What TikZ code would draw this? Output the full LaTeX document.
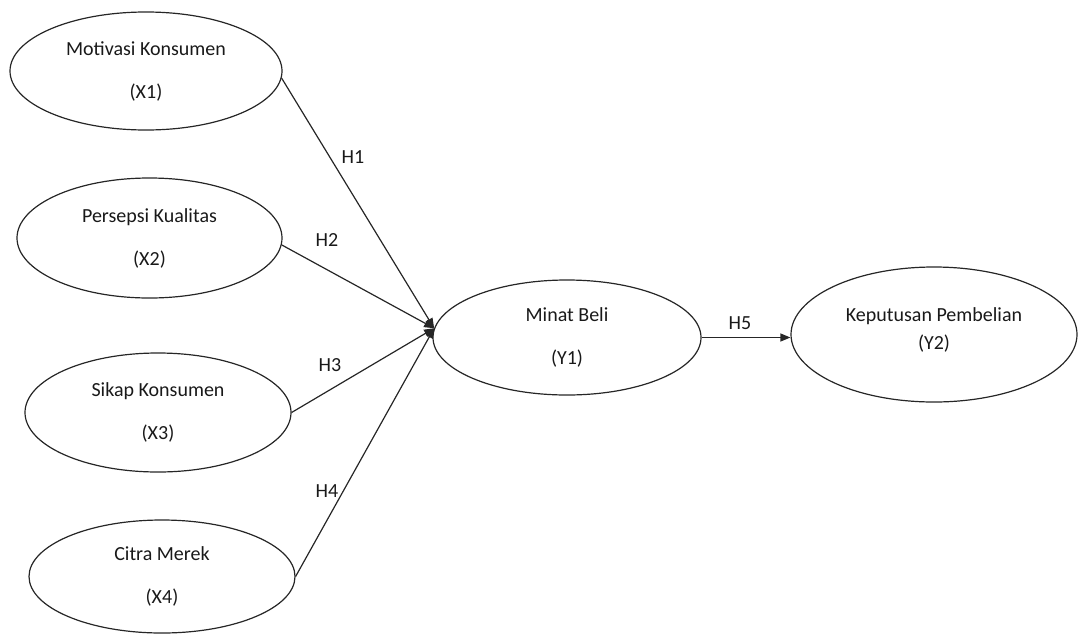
\documentclass[tikz,border=0pt]{standalone}
\usepackage{fontspec}
\setmainfont{Carlito}
\usetikzlibrary{shapes.geometric,arrows.meta}
\begin{document}
\begin{tikzpicture}[x=1pt,y=-1pt,
  ell/.style={draw=black!85,line width=1.2pt,ellipse,inner sep=0pt,align=center,
    font=\fontsize{20}{24}\selectfont,text=black!90},
  lbl/.style={font=\fontsize{20}{24}\selectfont,text=black!90,inner sep=0pt},
  conn/.style={draw=black!85,line width=1.2pt,-{Triangle[length=10pt,width=8pt]}}]
\useasboundingbox (0,0) rectangle (1078,635);
\node[ell,minimum width=272pt,minimum height=118pt] (X1) at (146,71) {Motivasi Konsumen\\[19pt](X1)};
\node[ell,minimum width=265pt,minimum height=120pt] (X2) at (149.5,238) {Persepsi Kualitas\\[19pt](X2)};
\node[ell,minimum width=266pt,minimum height=119pt] (X3) at (158,412.5) {Sikap Konsumen\\[19pt](X3)};
\node[ell,minimum width=266pt,minimum height=113pt] (X4) at (162,576.5) {Citra Merek\\[19pt](X4)};
\node[ell,minimum width=268pt,minimum height=115pt] (Y1) at (567,337.5) {Minat Beli\\[19pt](Y1)};
\node[ell,minimum width=286pt,minimum height=135pt] (Y2) at (934,334.5) {};
\node[lbl,align=center] (Y2t) at ([yshift=5pt]Y2.center) {Keputusan Pembelian\\[4pt](Y2)};
\coordinate (conv) at (Y1.176);
\draw[conn] (X1.-3) -- (conv);
\draw[conn] (X2.-3) -- (conv);
\draw[conn] (X3.east) -- (conv);
\draw[conn] (X4.east) -- (conv);
\draw[conn] (Y1.east) -- (Y1.east -| Y2.west);
\node[lbl] (H1) at (353,157) {H1};
\node[lbl] (H2) at (327,240) {H2};
\node[lbl] (H3) at (330,365) {H3};
\node[lbl] (H4) at (327,491) {H4};
\node[lbl] (H5) at (740,323) {H5};
\end{tikzpicture}
\end{document}
